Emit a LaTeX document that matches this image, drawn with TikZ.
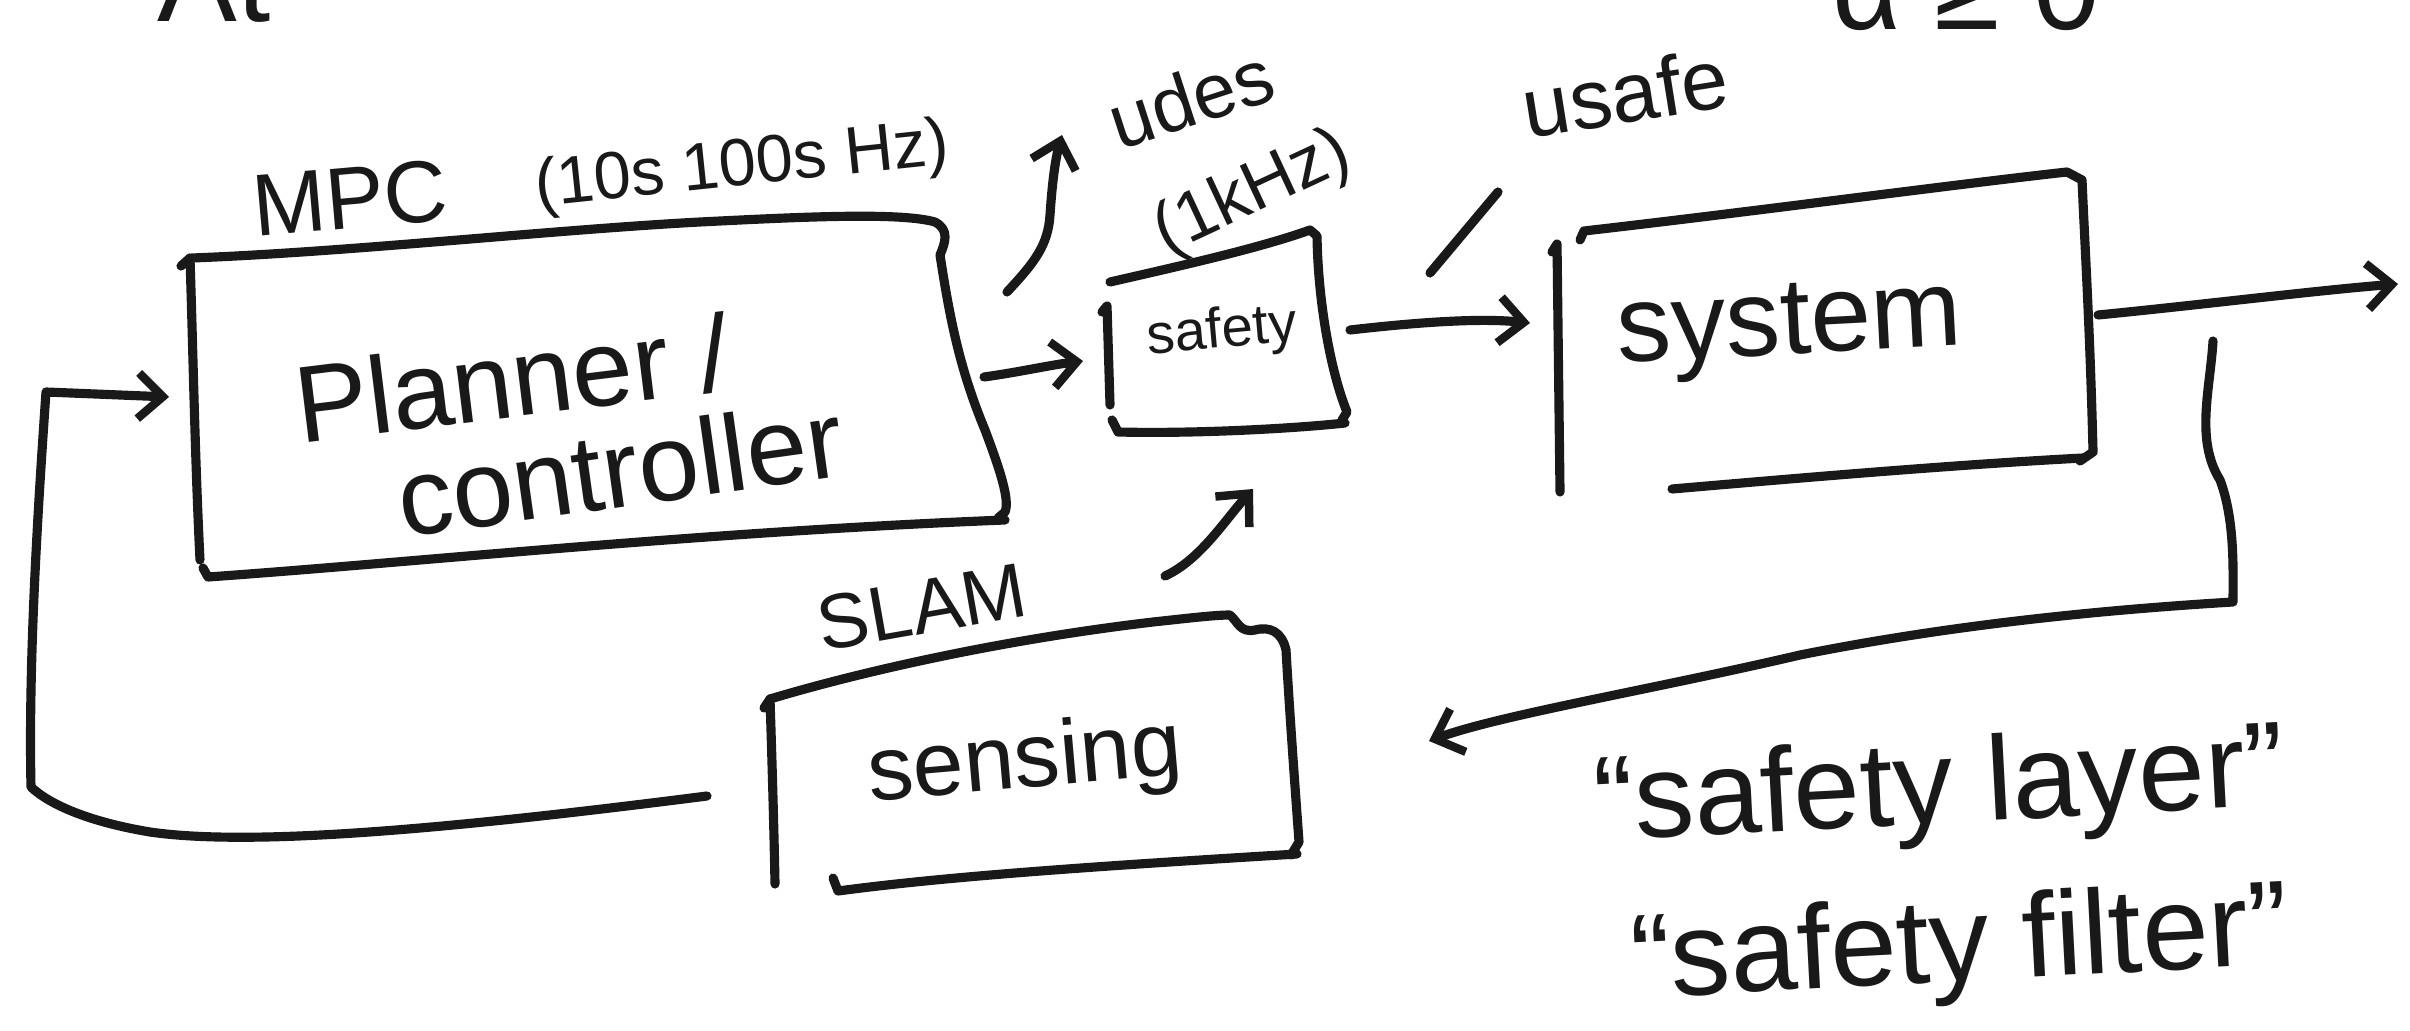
\documentclass[tikz,border=0pt]{standalone}
\usepackage{fontspec}
\setmainfont{Liberation Sans}
\usetikzlibrary{arrows.meta}
\begin{document}
\begin{tikzpicture}[x=0.01cm,y=-0.01cm, line cap=round, line join=round,
  ink/.style={line width=2.6pt, draw=black!90},
  conn/.style={ink, -{Straight Barb[length=7pt,width=13pt,line width=2.4pt]}},
  lab/.style={inner sep=0pt, text=black!90},
  fsz/.style={font=\fontsize{#1}{#1}\selectfont}]
\useasboundingbox (0,0) rectangle (2410,1031);
\clip (0,0) rectangle (2410,1031);

% ---------- cut-off texts at the top ----------
\node[lab, fsz=34, anchor=base] (at) at (214,22) {At};
\node[lab, fsz=34, anchor=base west] (alpha) at (1832,30) {α ≥ 0};

% ---------- planner / controller box ----------
\draw[ink] (181,266) -- (190,258) .. controls (193,350) and (195,460) .. (200,560);
\draw[ink] (192,258) .. controls (350,252) and (550,230) .. (700,222)
  .. controls (800,217) and (900,212) .. (935,222) .. controls (950,230) and (945,243) .. (940,255)
  .. controls (950,320) and (960,370) .. (985,430) .. controls (1000,470) and (1010,500) .. (1005,512) -- (998,518);
\draw[ink] (203,568) -- (208,577) .. controls (420,562) and (700,532) .. (1005,520);
\node[lab, fsz=31, rotate=7] (planner) at (512,378) {Planner /};
\node[lab, fsz=31, rotate=8] (controller) at (620,468) {controller};
\node[lab, fsz=25, rotate=5] (mpc) at (350,198) {MPC};
\node[lab, fsz=19, rotate=6] (hz) at (742,168) {(10s 100s Hz)};

% ---------- safety box ----------
\draw[ink] (1102,312) -- (1107,306) -- (1110,405);
\draw[ink] (1110,282) .. controls (1180,266) and (1260,248) .. (1310,230)
  -- (1317,236) .. controls (1318,300) and (1330,370) .. (1347,412) -- (1342,420);
\draw[ink] (1112,420) -- (1118,432) .. controls (1200,434) and (1300,428) .. (1345,423);
\node[lab, fsz=16, rotate=5] (safetytxt) at (1222,333) {safety};
\node[lab, fsz=20, rotate=25] (khz) at (1253,194) {(1kHz)};

% ---------- system box ----------
\draw[ink] (1552,252) -- (1557,244) -- (1560,492);
\draw[ink] (1580,240) -- (1584,231) .. controls (1750,212) and (1950,185) .. (2067,172)
  -- (2082,180) .. controls (2085,250) and (2090,330) .. (2093,452) -- (2080,461);
\draw[ink] (1672,489) .. controls (1800,478) and (1950,465) .. (2083,458);
\node[lab, fsz=31, rotate=3] (system) at (1790,330) {system};

% ---------- sensing box ----------
\draw[ink] (764,708) -- (770,699) .. controls (772,760) and (774,830) .. (775,884);
\draw[ink] (770,699) .. controls (860,672) and (1000,640) .. (1153,622)
  .. controls (1190,618) and (1215,615) .. (1230,615)
  .. controls (1238,622) and (1240,633) .. (1255,630) .. controls (1270,626) and (1282,632) .. (1286,650)
  .. controls (1290,720) and (1296,800) .. (1299,842) -- (1291,855);
\draw[ink] (833,878) -- (838,891) .. controls (950,876) and (1100,866) .. (1297,854);
\node[lab, fsz=26, rotate=5] (sensing) at (1025,764) {sensing};
\node[lab, fsz=22, rotate=10] (slam) at (922,607) {SLAM};

% ---------- labels of signals ----------
\node[lab, fsz=22, rotate=18] (udes) at (1191,98) {udes};
\node[lab, fsz=24, rotate=9] (usafe) at (1625,93) {usafe};
\draw[ink] (1430,273) -- (1498,192);

% ---------- connector end points ----------
\coordinate (loopStart) at (707,796);
\coordinate (plannerIn) at (169,397);
\coordinate (pcOut) at (984,377);
\coordinate (safIn) at (1083,361);
\coordinate (udesFrom) at (1007,292);
\coordinate (udesTo) at (1062,135);
\coordinate (senOut) at (1165,576);
\coordinate (safBot) at (1253,489);
\coordinate (safOut) at (1350,330);
\coordinate (sysIn) at (1530,323);
\coordinate (sysOut) at (2098,315);
\coordinate (outEnd) at (2398,284);
\coordinate (fbStart) at (2213,341);
\coordinate (fbEnd) at (1429,741);

% ---------- connectors ----------
\draw[conn] (loopStart) .. controls (480,825) and (260,848) .. (150,832)
  .. controls (90,822) and (50,805) .. (31,787)
  .. controls (28,650) and (40,480) .. (46,392) -- (plannerIn);
\draw[conn] (pcOut) .. controls (1020,372) and (1050,365) .. (safIn);
\draw[conn] (udesFrom) .. controls (1035,262) and (1048,245) .. (1050,215)
  .. controls (1052,185) and (1055,160) .. (udesTo);
\draw[conn] (senOut) .. controls (1200,560) and (1225,520) .. (safBot);
\draw[conn] (safOut) .. controls (1420,322) and (1480,318) .. (sysIn);
\draw[conn] (sysOut) .. controls (2200,305) and (2320,290) .. (outEnd);
\draw[conn] (fbStart) .. controls (2210,390) and (2195,440) .. (2220,480)
  .. controls (2235,520) and (2233,570) .. (2233,602)
  .. controls (2100,610) and (1950,625) .. (1800,655)
  .. controls (1650,690) and (1500,715) .. (fbEnd);

% ---------- safety layer / filter ----------
\node[lab, fsz=34, rotate=3] (layer) at (1940,792) {“safety layer”};
\node[lab, fsz=34, rotate=3] (filter) at (1960,950) {“safety filter”};
\end{tikzpicture}
\end{document}
